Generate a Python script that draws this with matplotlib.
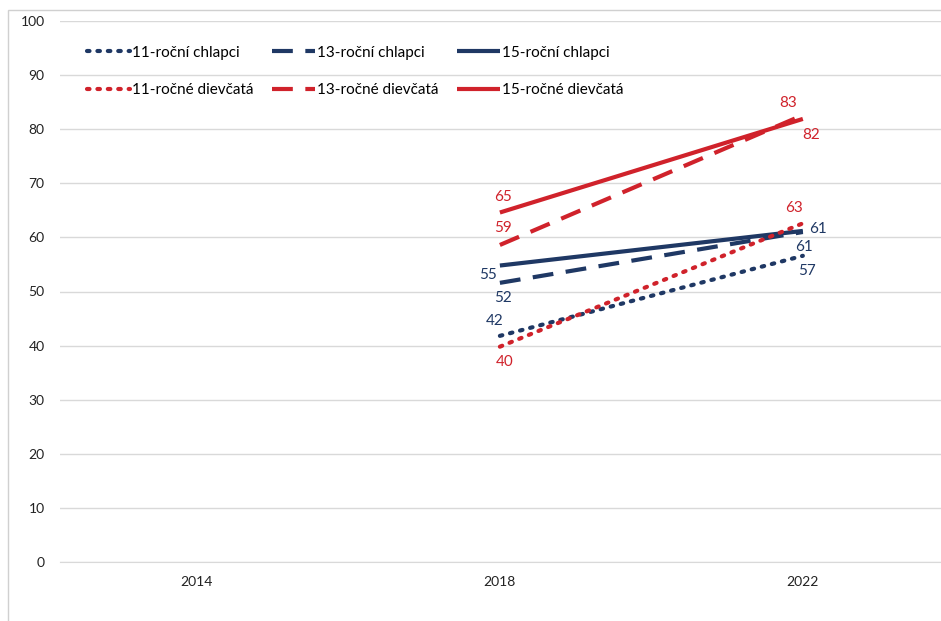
import matplotlib.pyplot as plt
from matplotlib.patches import Rectangle

plt.rcParams['font.family'] = ['Lato', 'DejaVu Sans']

years = ['2014', '2018', '2022']
x_pos = [1, 2]  # only 2018 and 2022 have data

series_names = ['11-roční chlapci', '13-roční chlapci', '15-roční chlapci',
                '11-ročné dievčatá', '13-ročné dievčatá', '15-ročné dievčatá']
boys_11 = [41.8, 56.6]
boys_13 = [51.6, 61.0]
boys_15 = [54.8, 61.2]
girls_11 = [39.8, 62.6]
girls_13 = [58.6, 82.6]
girls_15 = [64.6, 81.9]

NAVY = '#1f3864'
RED = '#d0222b'

fig = plt.figure(figsize=(9.41, 6.21), dpi=100)
ax = fig.add_axes([60 / 941, 1 - 562 / 621, 1 - 60 / 941, (562 - 21) / 621])

# outer chart frame
fig.patches.append(Rectangle((8 / 941, -0.01), 1.0, 1 - 10 / 621 + 0.01,
                             transform=fig.transFigure, fill=False,
                             edgecolor='#d0d0d0', linewidth=1.0))

styles = [
    (boys_11, NAVY, (0, (0.6, 1.9)), 'round'),
    (boys_13, NAVY, (0, (5, 3)), 'butt'),
    (boys_15, NAVY, '-', 'butt'),
    (girls_11, RED, (0, (0.6, 1.9)), 'round'),
    (girls_13, RED, (0, (5, 3)), 'butt'),
    (girls_15, RED, '-', 'butt'),
]

lines = []
for (vals, col, ls, cap), name in zip(styles, series_names):
    ln, = ax.plot(x_pos, vals, color=col, linewidth=3, linestyle=ls,
                  dash_capstyle=cap, solid_capstyle='butt', label=name)
    lines.append(ln)

# label offsets in pixels (dx, dy) for 2018 and 2022 points
offsets = [
    [(-5, 15), (4, -15)],
    [(3, -15), (1, -15)],
    [(-12, -9), (15, 2)],
    [(5, -15), (-9, 15)],
    [(3, 17), (-15, 12)],
    [(3, 16), (8, -16)],
]
for (vals, col, ls, cap), offs in zip(styles, offsets):
    for xi, v, (dx, dy) in zip(x_pos, vals, offs):
        ax.annotate(f'{round(v):d}', (xi, v), xytext=(dx, dy),
                    textcoords='offset pixels', ha='center', va='center',
                    color=col, fontsize=11)

ax.set_ylim(0, 100)
ax.set_yticks(range(0, 101, 10))
ax.set_xlim(-0.452, 2.456)
ax.set_xticks(range(len(years)))
ax.set_xticklabels(years)
ax.grid(axis='y', color='#d9d9d9', linewidth=1)
ax.set_axisbelow(True)
for side in ['top', 'right', 'left']:
    ax.spines[side].set_visible(False)
ax.spines['bottom'].set_color('#d9d9d9')
ax.tick_params(axis='both', length=0, labelsize=10, colors='#222222')
ax.tick_params(axis='y', pad=11)
ax.tick_params(axis='x', pad=10)

# legend is filled column-wise, so interleave boys/girls
order = [0, 3, 1, 4, 2, 5]
ax.legend(handles=[lines[i] for i in order],
          ncol=3, loc='upper left', bbox_to_anchor=(0.015, 0.98),
          frameon=False, fontsize=11, handlelength=2.8, handletextpad=0.15,
          columnspacing=1.2, labelspacing=1.55)

fig.savefig('out.png', dpi=100)
